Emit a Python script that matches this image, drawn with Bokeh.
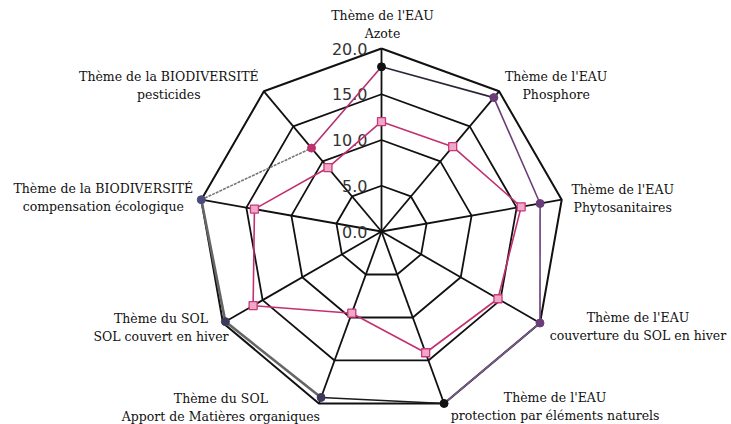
import numpy as np
from bokeh.plotting import figure
from bokeh.models import ColumnDataSource, Range1d
from bokeh.core.properties import value
from bokeh.embed import file_html
from bokeh.resources import INLINE

# ---- data ----
categories = [
    "Thème de l'EAU\nAzote",
    "Thème de l'EAU\nPhosphore",
    "Thème de l'EAU\nPhytosanitaires",
    "Thème de l'EAU\ncouverture du SOL en hiver",
    "Thème de l'EAU\nprotection par éléments naturels",
    "Thème du SOL\nApport de Matières organiques",
    "Thème du SOL\nSOL couvert en hiver",
    "Thème de la BIODIVERSITÉ\ncompensation écologique",
    "Thème de la BIODIVERSITÉ\npesticides",
]
ticks = [0, 5, 10, 15, 20]
tick_labels = ["0.0", "5.0", "10.0", "15.0", "20.0"]
series_dots = [18.0, 19.1, 17.6, 20.0, 20.0, 19.3, 19.7, 20.0, 11.9]
series_squares = [12.0, 12.1, 15.5, 14.7, 14.1, 9.5, 16.2, 14.1, 9.1]

# ---- styles ----
dot_colors = ["#111111", "#6a3d78", "#6a3d78", "#6a3d78", "#111111",
              "#3c3a5c", "#3c3a5c", "#4a4a7c", "#c0306e"]
seg_colors = ["#2e2438", "#6b3d78", "#6b3d78", "#7a5a8a", "#1a1a1a",
              "#666666", "#666666", "#777777", "#b03070"]
seg_widths = [1.6, 1.6, 1.6, 1.6, 1.6, 2.6, 2.6, 1.6, 1.6]
seg_dash = ["solid"] * 7 + ["3 1", "solid"]
label_dx = [1, 57, 61, 98, 111, -98, -62, -98, -95]
label_dy = [-24, -6, -1, 3, 3, 4, 4, -2, -6]

W, H = 731, 424
cx, cy = 381, 231
s = 9.15
n = len(categories)
theta = np.radians(np.arange(n) * 360.0 / n)

def xy(r):
    r = np.asarray(r, dtype=float)
    return r * np.sin(theta), r * np.cos(theta)

p = figure(width=W, height=H, output_backend="svg", toolbar_location=None,
           x_range=Range1d(-cx / s, (W - cx) / s),
           y_range=Range1d(-(H - cy) / s, cy / s),
           min_border=0)
p.axis.visible = False
p.grid.visible = False
p.outline_line_color = None
p.background_fill_color = "white"

# grid rings
for t in ticks[1:]:
    gx, gy = xy([t] * n)
    p.line(list(gx) + [gx[0]], list(gy) + [gy[0]], line_color="#111111",
           line_width=2.0 if t == ticks[-1] else 1.8)
# spokes
ox, oy = xy([ticks[-1]] * n)
p.segment(x0=[0] * n, y0=[0] * n, x1=ox, y1=oy, line_color="#111111", line_width=1.8)

# tick labels
p.text(x=[0] * len(ticks), y=ticks, text=tick_labels, x_offset=-14,
       text_align="right", text_baseline="middle", text_font=value("DejaVu Sans"),
       text_font_size="16px", text_color="#333333")

# square series
sx, sy = xy(series_squares)
p.line(list(sx) + [sx[0]], list(sy) + [sy[0]], line_color="#c2306f", line_width=1.6)

# dot series segments
dx, dy = xy(series_dots)
for i in range(n):
    j = (i + 1) % n
    p.line([dx[i], dx[j]], [dy[i], dy[j]], line_color=seg_colors[i],
           line_width=seg_widths[i], line_dash=seg_dash[i])

p.scatter(sx, sy, marker="square", size=8, fill_color="#f0a8c8",
          line_color="#c8387a", line_width=1.3)
p.scatter(dx, dy, marker="circle", size=8, fill_color=dot_colors,
          line_color=dot_colors)

# category labels
src = ColumnDataSource(dict(x=ox, y=oy, text=categories,
                            xo=label_dx, yo=label_dy))
p.text(x="x", y="y", text="text", x_offset="xo", y_offset="yo", source=src,
       text_align="center", text_baseline="middle",
       text_font=value("DejaVu Serif"), text_font_size="12.5px",
       text_line_height=1.2, text_color="#111111")

open("out.html", "w").write(file_html(p, INLINE))
